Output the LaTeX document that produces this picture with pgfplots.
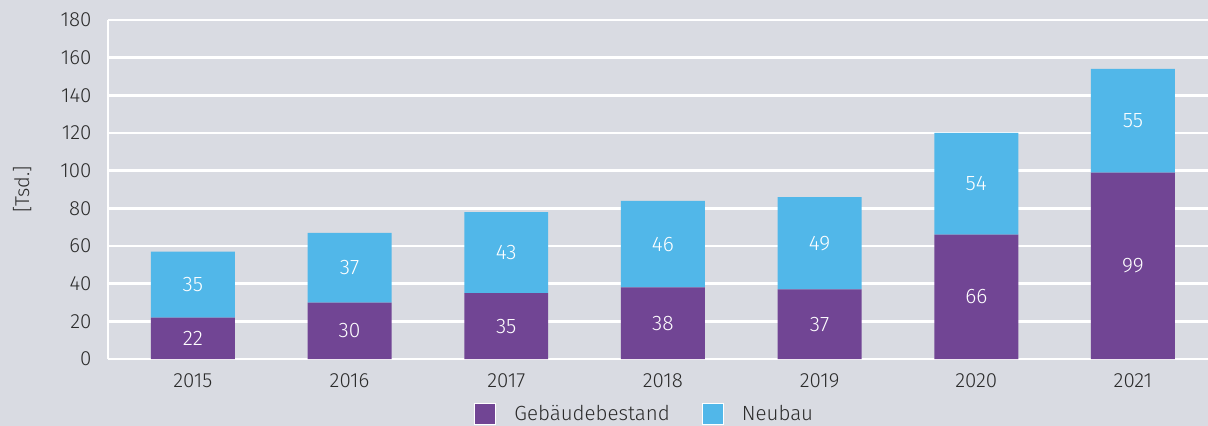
\documentclass[border=0pt]{standalone}
\usepackage{pgfplots}
\pgfplotsset{compat=1.18}
\usepackage{fontspec}
\setmainfont{Fira Sans Light}
\definecolor{bgcol}{HTML}{D9DBE2}
\definecolor{lila}{HTML}{714594}
\definecolor{hblau}{HTML}{51B7E9}
\definecolor{txt}{HTML}{2B2B2B}

\begin{document}
\begin{tikzpicture}
\path[use as bounding box, fill=bgcol] (-108bp,-67bp) rectangle (1100bp,359bp);
\begin{axis}[ybar stacked, scale only axis, width=1100bp, height=339bp,
  xmin=-0.542, xmax=6.479, ymin=0, ymax=180, ytick={0,20,...,180},
  xtick=data, xticklabels={2015,2016,2017,2018,2019,2020,2021},
  bar width=0.536,
  axis lines*=left, axis line style={draw=white, line width=2.5bp, -},
  ymajorgrids, grid style={white, line width=2.5bp},
  major tick length=0pt,
  tick label style={font=\fontsize{20.5bp}{22bp}\selectfont, text=txt},
  /pgf/number format/assume math mode=true,
  yticklabel style={xshift=-13bp},
  xticklabel style={yshift=-11bp},
  ylabel={[Tsd.]}, ylabel style={at={(axis description cs:-0.078,0.5)}, anchor=center, font=\fontsize{20bp}{22bp}\selectfont, text=txt},
  nodes near coords,
  every node near coord/.append style={anchor=center, text=white, font=\fontsize{21bp}{23bp}\selectfont},
  legend columns=2,
  legend style={at={(0.488,-0.162)}, anchor=center, draw=none, fill=none,
    font=\fontsize{20.5bp}{22bp}\selectfont, text=txt,
    /tikz/every odd column/.append style={column sep=16bp},
    /tikz/every even column/.append style={column sep=30bp}},
  legend image code/.code={\draw[#1, draw=white, line width=1bp] (0bp,-10.5bp) rectangle (21bp,10.5bp);},
]
\addplot[fill=lila, draw=none] coordinates {(0,22)(1,30)(2,35)(3,38)(4,37)(5,66)(6,99)};
\addplot[fill=hblau, draw=none] coordinates {(0,35)(1,37)(2,43)(3,46)(4,49)(5,54)(6,55)};
\legend{Gebäudebestand, Neubau}
\end{axis}
\end{tikzpicture}
\end{document}
